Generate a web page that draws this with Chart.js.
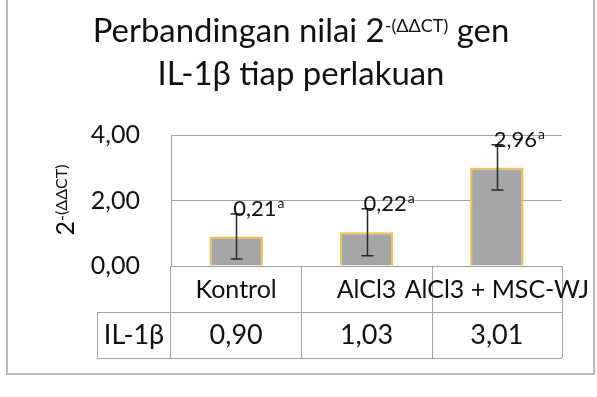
<!DOCTYPE html>
<html><head><meta charset="utf-8">
<script src="https://cdn.jsdelivr.net/npm/chart.js@4/dist/chart.umd.min.js"></script>
<style>html,body{margin:0;padding:0;background:#fff;} #wrap{width:597px;height:397px;}</style>
</head><body><div id="wrap"><canvas id="c" width="597" height="397"></canvas></div>
<script>
const categories = ['Kontrol', 'AlCl3', 'AlCl3 + MSC-WJ'];
const seriesName = 'IL-1β';
const values = [0.90, 1.03, 3.01];
const errors = [0.69, 0.72, 0.69];
const pointLabels = ['0,21', '0,22', '2,96'];
const pointLabelSup = ['a', 'a', 'a'];
const tableValues = ['0,90', '1,03', '3,01'];
const yTicks = [0, 2, 4];
const yTickLabels = ['0,00', '2,00', '4,00'];
const titleLine1 = ['Perbandingan nilai 2', '-(ΔΔCT)', ' gen'];
const titleLine2 = 'IL-1β tiap perlakuan';
const yTitle = ['2', '-(ΔΔCT)'];

const FONT = 'Lato, Carlito, Calibri, "Liberation Sans", sans-serif';
const TEXT = '#111111';
const GRID = '#a3a3a3';
const ROW_H = 46;

const extras = {
  id: 'extras',
  afterDatasetsDraw(chart) {
    const ctx = chart.ctx, x = chart.scales.x, y = chart.scales.y;
    ctx.save();
    ctx.strokeStyle = '#2a2a2a';
    ctx.lineWidth = 1.5;
    values.forEach((v, i) => {
      const cx = Math.round(x.getPixelForValue(i)) + 0.5;
      const top = y.getPixelForValue(v + errors[i]);
      const bot = y.getPixelForValue(v - errors[i]);
      ctx.beginPath();
      ctx.moveTo(cx, top); ctx.lineTo(cx, bot);
      ctx.moveTo(cx - 6, top); ctx.lineTo(cx + 6, top);
      ctx.moveTo(cx - 6, bot); ctx.lineTo(cx + 6, bot);
      ctx.stroke();
    });
    ctx.restore();
  },
  afterDraw(chart) {
    const ctx = chart.ctx, x = chart.scales.x, y = chart.scales.y;
    const a = chart.chartArea;
    const n = categories.length;
    const cw = (a.right - a.left) / n;
    ctx.save();
    // outer border
    ctx.strokeStyle = '#b9b9b9';
    ctx.lineWidth = 2;
    ctx.strokeRect(7, -2, 587, 376);

    // table
    const r1 = a.bottom, r2 = a.bottom + ROW_H, r3 = a.bottom + 2 * ROW_H;
    const tableLeft = 97;
    ctx.strokeStyle = GRID;
    ctx.lineWidth = 1;
    ctx.beginPath();
    const hl = (yy, x0, x1) => { const p = Math.round(yy) + 0.5; ctx.moveTo(x0, p); ctx.lineTo(x1, p); };
    const vl = (xx, y0, y1) => { const p = Math.round(xx) + 0.5; ctx.moveTo(p, y0); ctx.lineTo(p, y1); };
    hl(r2, tableLeft, a.right);
    hl(r3, tableLeft, a.right);
    vl(tableLeft, r2, r3);
    for (let i = 0; i <= n; i++) {
      vl(a.left + i * cw - (i === 0 ? 1 : 0), r1, r3);
    }
    ctx.stroke();

    ctx.fillStyle = TEXT;
    ctx.textAlign = 'center';
    ctx.textBaseline = 'alphabetic';
    ctx.font = '25px ' + FONT;
    categories.forEach((c, i) => {
      ctx.fillText(c, x.getPixelForValue(i), r1 + 32);
    });
    ctx.font = '27px ' + FONT;
    tableValues.forEach((t, i) => {
      ctx.fillText(t, x.getPixelForValue(i), r2 + 32);
    });
    ctx.fillText(seriesName, (tableLeft + a.left) / 2, r2 + 32);

    // data labels
    ctx.textAlign = 'left';
    values.forEach((v, i) => {
      const lx = x.getPixelForValue(i) - 3;
      const ly = y.getPixelForValue(v + errors[i]) + 2;
      ctx.font = '22px ' + FONT;
      ctx.fillText(pointLabels[i], lx, ly);
      const w = ctx.measureText(pointLabels[i]).width;
      ctx.font = '14px ' + FONT;
      ctx.fillText(pointLabelSup[i], lx + w + 1, ly - 8);
    });

    // title
    const cxT = 301;
    ctx.font = '100px ' + FONT;
    const F = 100 * 287 / ctx.measureText(titleLine2).width;
    const S = F * 0.55;
    ctx.font = F + 'px ' + FONT;
    ctx.textAlign = 'center';
    ctx.fillText(titleLine2, cxT, 85);
    ctx.textAlign = 'left';
    const w1 = ctx.measureText(titleLine1[0]).width;
    const w3 = ctx.measureText(titleLine1[2]).width;
    ctx.font = S + 'px ' + FONT;
    const w2 = ctx.measureText(titleLine1[1]).width;
    let tx = cxT - (w1 + w2 + w3) / 2;
    ctx.font = F + 'px ' + FONT;
    ctx.fillText(titleLine1[0], tx, 42);
    tx += w1;
    ctx.font = S + 'px ' + FONT;
    ctx.fillText(titleLine1[1], tx, 42 - F * 0.3);
    tx += w2;
    ctx.font = F + 'px ' + FONT;
    ctx.fillText(titleLine1[2], tx, 42);

    // y title
    ctx.save();
    ctx.translate(74, 200);
    ctx.rotate(-Math.PI / 2);
    ctx.font = '25px ' + FONT;
    const yw1 = ctx.measureText(yTitle[0]).width;
    ctx.font = '16px ' + FONT;
    const yw2 = ctx.measureText(yTitle[1]).width;
    let ty = -(yw1 + yw2) / 2;
    ctx.font = '25px ' + FONT;
    ctx.fillText(yTitle[0], ty, 0);
    ctx.font = '16px ' + FONT;
    ctx.fillText(yTitle[1], ty + yw1, -7);
    ctx.restore();

    ctx.restore();
  }
};

new Chart(document.getElementById('c'), {
  type: 'bar',
  data: {
    labels: categories,
    datasets: [{
      label: seriesName,
      data: values,
      backgroundColor: '#a6a6a6',
      borderColor: '#f2c244',
      borderWidth: 2,
      categoryPercentage: 1,
      barPercentage: 0.41
    }]
  },
  options: {
    responsive: false,
    animation: false,
    devicePixelRatio: 1,
    layout: { padding: { top: 135, left: 0, right: 35, bottom: 131 } },
    plugins: { legend: { display: false }, tooltip: { enabled: false }, title: { display: false } },
    scales: {
      x: {
        grid: { display: false },
        border: { display: false },
        ticks: { display: false },
        afterFit: s => { s.height = 0; }
      },
      y: {
        min: 0, max: 4,
        afterBuildTicks: s => { s.ticks = yTicks.map(v => ({ value: v })); },
        ticks: {
          padding: 31,
          color: TEXT,
          font: { family: FONT, size: 25 },
          callback: (v) => yTickLabels[yTicks.indexOf(v)]
        },
        grid: { color: GRID, drawTicks: false, lineWidth: 1 },
        border: { display: true, color: GRID },
        afterFit: s => { s.width = 171; }
      }
    }
  },
  plugins: [extras]
});
</script>
</body></html>
